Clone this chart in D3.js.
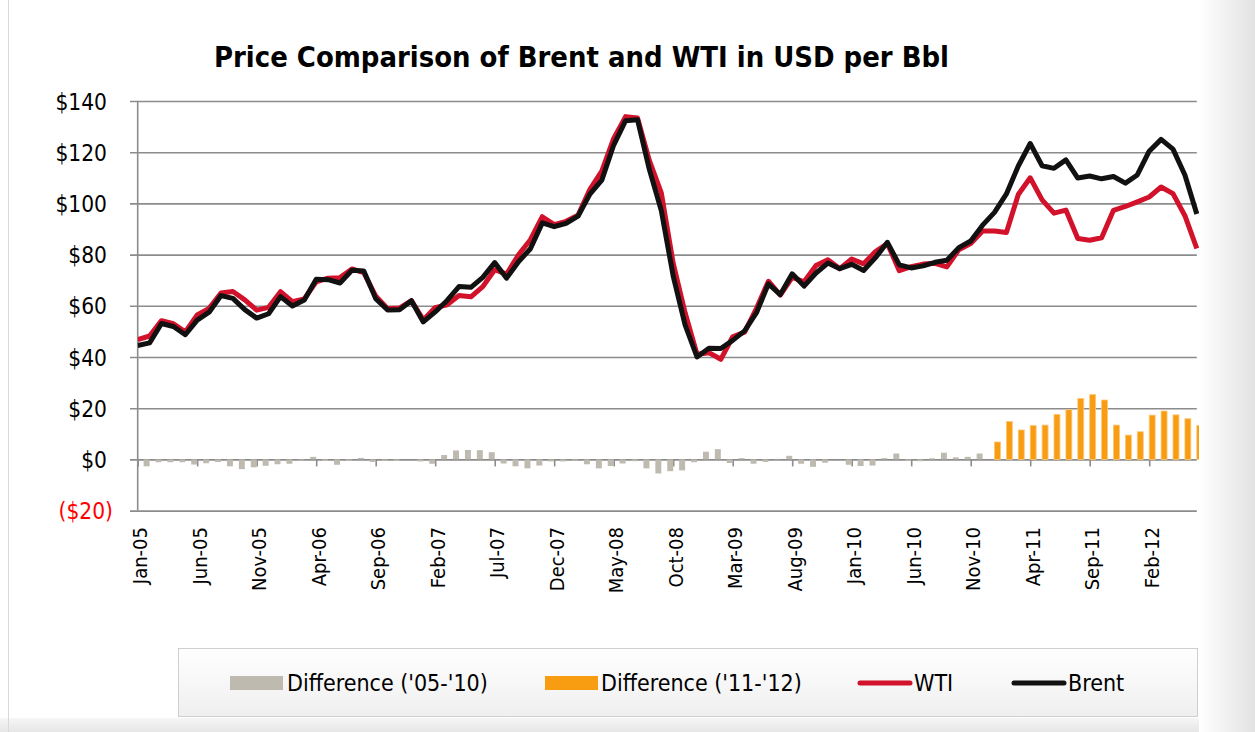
<!DOCTYPE html>
<html>
<head>
<meta charset="utf-8">
<script src="https://cdn.jsdelivr.net/npm/d3@7/dist/d3.min.js"></script>
<style>
  html, body { margin: 0; padding: 0; background: #ffffff; }
  svg { display: block; }
  text { font-family: "DejaVu Sans Condensed", "DejaVu Sans", sans-serif; }
</style>
</head>
<body>
<svg id="chart" width="1255" height="732"></svg>
<script>
// ---------------- DATA ----------------
const months = [
  "Jan-05","Feb-05","Mar-05","Apr-05","May-05","Jun-05","Jul-05","Aug-05","Sep-05","Oct-05","Nov-05","Dec-05",
  "Jan-06","Feb-06","Mar-06","Apr-06","May-06","Jun-06","Jul-06","Aug-06","Sep-06","Oct-06","Nov-06","Dec-06",
  "Jan-07","Feb-07","Mar-07","Apr-07","May-07","Jun-07","Jul-07","Aug-07","Sep-07","Oct-07","Nov-07","Dec-07",
  "Jan-08","Feb-08","Mar-08","Apr-08","May-08","Jun-08","Jul-08","Aug-08","Sep-08","Oct-08","Nov-08","Dec-08",
  "Jan-09","Feb-09","Mar-09","Apr-09","May-09","Jun-09","Jul-09","Aug-09","Sep-09","Oct-09","Nov-09","Dec-09",
  "Jan-10","Feb-10","Mar-10","Apr-10","May-10","Jun-10","Jul-10","Aug-10","Sep-10","Oct-10","Nov-10","Dec-10",
  "Jan-11","Feb-11","Mar-11","Apr-11","May-11","Jun-11","Jul-11","Aug-11","Sep-11","Oct-11","Nov-11","Dec-11",
  "Jan-12","Feb-12","Mar-12","Apr-12","May-12","Jun-12"
];

const wti = [
  46.8, 48.2, 54.2, 53.0, 49.8, 56.4, 59.0, 65.0, 65.6, 62.3, 58.3, 59.4,
  65.5, 61.6, 62.7, 69.4, 70.8, 71.0, 74.4, 73.0, 63.8, 58.9, 59.1, 62.0,
  54.5, 59.3, 60.4, 64.0, 63.5, 67.5, 74.1, 72.4, 79.9, 85.8, 94.8, 91.7,
  93.0, 95.4, 105.5, 112.6, 125.4, 133.9, 133.4, 116.7, 104.1, 76.6, 57.3, 41.1,
  41.7, 39.1, 47.9, 49.7, 59.0, 69.6, 64.2, 71.1, 69.4, 75.7, 78.0, 74.5,
  78.3, 76.4, 81.2, 84.3, 73.7, 75.3, 76.3, 76.6, 75.2, 81.9, 84.3, 89.2,
  89.2, 88.6, 103.5, 110.0, 101.4, 96.2, 97.4, 86.3, 85.6, 86.6, 97.3, 98.8,
  100.6, 102.5, 106.4, 103.8, 95.2, 82.4
];

const brent = [
  44.5, 45.5, 53.1, 51.9, 48.7, 54.4, 57.5, 64.0, 62.9, 58.5, 55.2, 56.9,
  63.6, 59.9, 62.3, 70.4, 70.2, 68.9, 73.9, 73.6, 62.8, 58.4, 58.5, 62.0,
  53.7, 57.6, 62.1, 67.5, 67.2, 71.1, 76.9, 70.8, 77.2, 82.3, 92.4, 90.9,
  92.2, 95.0, 103.6, 109.1, 122.8, 132.3, 132.7, 113.2, 97.2, 71.6, 52.5, 40.0,
  43.4, 43.3, 46.5, 50.2, 57.3, 68.6, 64.4, 72.5, 67.7, 72.8, 76.7, 74.5,
  76.2, 73.8, 78.8, 84.8, 76.0, 74.8, 75.6, 77.0, 77.8, 82.7, 85.3, 91.5,
  96.5, 103.7, 114.6, 123.4, 114.7, 113.7, 117.0, 109.9, 110.7, 109.6, 110.5, 107.9,
  111.1, 120.4, 125.0, 121.2, 111.1, 95.9
];

// Brent minus WTI, as drawn by the grey bars (Jan-05 .. Dec-10)
const diff0510 = [
  -2.3, -2.7, -1.1, -1.1, -1.1, -2.0, -1.5, -1.0, -2.7, -3.8, -3.1, -2.5,
  -1.9, -1.7, -0.4, 1.0, -0.6, -2.1, -0.5, 0.6, -1.0, -0.5, -0.6, 0.0,
  -0.8, -1.7, 1.7, 3.5, 3.7, 3.6, 2.8, -1.6, -2.7, -3.5, -2.4, -0.8,
  -0.8, -0.4, -1.9, -3.5, -2.6, -1.6, -0.7, -3.5, -5.5, -4.6, -4.3, -1.1,
  3.0, 4.0, -1.4, 0.5, -1.7, -1.0, 0.2, 1.4, -1.7, -2.9, -1.3, 0.0,
  -2.1, -2.6, -2.4, 0.5, 2.3, -0.5, -0.7, 0.4, 2.6, 0.8, 1.0, 2.3
];
// Brent minus WTI, orange bars (Jan-11 .. Jun-12)
const diff1112 = [
  6.8, 14.8, 11.5, 13.2, 13.4, 17.6, 19.4, 23.8, 25.3, 23.2, 13.4, 9.5,
  10.8, 17.3, 18.9, 17.4, 15.9, 13.2
];

const yTicks = [-20, 0, 20, 40, 60, 80, 100, 120, 140];
const seriesNames = ["Difference ('05-'10)", "Difference ('11-'12)", "WTI", "Brent"];
const titleText = "Price Comparison of Brent and WTI in USD per Bbl";

// ---------------- DRAWING ----------------
const svg = d3.select("#chart");
const W = 1255, H = 732;
const plotL = 137.7, plotR = 1196.8, plotT = 101, plotB = 510.6;

const defs = svg.append("defs");
const lg = defs.append("linearGradient").attr("id", "legGrad").attr("x1", 0).attr("y1", 0).attr("x2", 0).attr("y2", 1);
lg.append("stop").attr("offset", "0%").attr("stop-color", "#ffffff");
lg.append("stop").attr("offset", "100%").attr("stop-color", "#efefef");
const rg = defs.append("linearGradient").attr("id", "rightGrad").attr("x1", 0).attr("y1", 0).attr("x2", 1).attr("y2", 0);
rg.append("stop").attr("offset", "0%").attr("stop-color", "#ffffff");
rg.append("stop").attr("offset", "100%").attr("stop-color", "#e2e2e2");
const bg = defs.append("linearGradient").attr("id", "botGrad").attr("x1", 0).attr("y1", 0).attr("x2", 0).attr("y2", 1);
bg.append("stop").attr("offset", "0%").attr("stop-color", "#f6f6f6");
bg.append("stop").attr("offset", "100%").attr("stop-color", "#e6e6e6");
defs.append("clipPath").attr("id", "plotClip")
  .append("rect").attr("x", plotL).attr("y", 0).attr("width", 1199 - plotL).attr("height", H);

svg.append("rect").attr("width", W).attr("height", H).attr("fill", "#ffffff");
svg.append("rect").attr("x", 0).attr("y", 718).attr("width", W).attr("height", H - 718).attr("fill", "url(#botGrad)");
svg.append("line").attr("x1", 8.5).attr("x2", 8.5).attr("y1", 0).attr("y2", H)
  .attr("stroke", "#d9d9d9").attr("stroke-width", 1);

const x = d3.scalePoint().domain(months).range([plotL, plotR]).padding(0);
const y = d3.scaleLinear().domain([-20, 140]).range([plotB, plotT]);
const step = x.step();
const barW = step / 2;

// Title
svg.append("text")
  .attr("x", 214).attr("y", 67)
  .attr("textLength", 735).attr("lengthAdjust", "spacingAndGlyphs")
  .attr("font-size", 28).attr("font-weight", "bold").attr("fill", "#000")
  .text(titleText);

// Y axis with gridlines
const yAxis = d3.axisLeft(y).tickValues(yTicks)
  .tickSize(-(plotR - 130))
  .tickPadding(23)
  .tickFormat(d => d < 0 ? "($" + Math.abs(d) + ")" : "$" + d);
const gy = svg.append("g").attr("transform", "translate(130,0)").call(yAxis);
gy.select(".domain").remove();
gy.selectAll(".tick line").attr("stroke", "#8c8c8c").attr("stroke-width", 1.6);
gy.selectAll(".tick text")
  .attr("font-size", 22.5).attr("fill", d => d < 0 ? "#ff0000" : "#000")
  .attr("x", d => d < 0 ? -17 : -23)
  .attr("dy", "0.36em");

// Y axis line
svg.append("line").attr("x1", plotL).attr("x2", plotL).attr("y1", plotT).attr("y2", plotB)
  .attr("stroke", "#8c8c8c").attr("stroke-width", 1.6);

// X axis (ticks on the zero line)
const xTickVals = months.filter((m, i) => i % 5 === 0);
const xAxis = d3.axisBottom(x).tickValues(xTickVals).tickSize(7).tickPadding(0);
const gx = svg.append("g").attr("transform", `translate(0,${y(0)})`).call(xAxis);
gx.select(".domain").remove();
gx.selectAll(".tick line").attr("stroke", "#8c8c8c").attr("stroke-width", 1.6);
gx.selectAll(".tick text")
  .attr("font-size", 20).attr("fill", "#000")
  .attr("y", null).attr("dy", null)
  .attr("text-anchor", "end")
  .attr("dominant-baseline", "central")
  .attr("transform", `translate(2,${527 - y(0)}) rotate(-90)`);

// Bars
const plot = svg.append("g").attr("clip-path", "url(#plotClip)");
plot.append("g").selectAll("rect")
  .data(diff0510.map((v, i) => ({ m: months[i], v })))
  .join("rect")
  .attr("x", d => x(d.m) - barW)
  .attr("width", barW)
  .attr("y", d => y(Math.max(0, d.v)))
  .attr("height", d => Math.abs(y(d.v) - y(0)))
  .attr("fill", "#bfbab0");
plot.append("g").selectAll("rect")
  .data(diff1112.map((v, i) => ({ m: months[72 + i], v })))
  .join("rect")
  .attr("x", d => x(d.m))
  .attr("width", barW)
  .attr("y", d => y(Math.max(0, d.v)))
  .attr("height", d => Math.abs(y(d.v) - y(0)))
  .attr("fill", "#f89c12")
  .attr("stroke", "#fbc878").attr("stroke-width", 0.8);

// Lines
const line = d3.line().x((d, i) => x(months[i])).y(d => y(d));
plot.append("path").datum(wti).attr("d", line)
  .attr("fill", "none").attr("stroke", "#d2112b").attr("stroke-width", 5)
  .attr("stroke-linejoin", "round").attr("stroke-linecap", "butt");
plot.append("path").datum(brent).attr("d", line)
  .attr("fill", "none").attr("stroke", "#111111").attr("stroke-width", 5)
  .attr("stroke-linejoin", "round").attr("stroke-linecap", "butt");

// Right-side shading
svg.append("rect").attr("x", 1199).attr("y", 0).attr("width", W - 1199).attr("height", H).attr("fill", "url(#rightGrad)");

// Legend
const leg = svg.append("g");
leg.append("rect").attr("x", 178.5).attr("y", 648.5).attr("width", 1019).attr("height", 68)
  .attr("fill", "url(#legGrad)").attr("stroke", "#cfcfcf").attr("stroke-width", 1);
const legItems = [
  { name: seriesNames[0], type: "bar", color: "#bfbab0", sx: 230, tx: 287 },
  { name: seriesNames[1], type: "bar", color: "#f89c12", sx: 545, tx: 601 },
  { name: seriesNames[2], type: "line", color: "#d2112b", sx: 858, tx: 914 },
  { name: seriesNames[3], type: "line", color: "#111111", sx: 1012, tx: 1068 }
];
legItems.forEach(it => {
  if (it.type === "bar") {
    leg.append("rect").attr("x", it.sx).attr("y", 676).attr("width", 53).attr("height", 14).attr("fill", it.color);
  } else {
    leg.append("line").attr("x1", it.sx + 2).attr("x2", it.sx + 52).attr("y1", 683).attr("y2", 683)
      .attr("stroke", it.color).attr("stroke-width", 5).attr("stroke-linecap", "round");
  }
  leg.append("text").attr("x", it.tx).attr("y", 683).attr("dy", "0.36em")
    .attr("font-size", 23).attr("fill", "#000").text(it.name);
});
</script>
</body>
</html>
